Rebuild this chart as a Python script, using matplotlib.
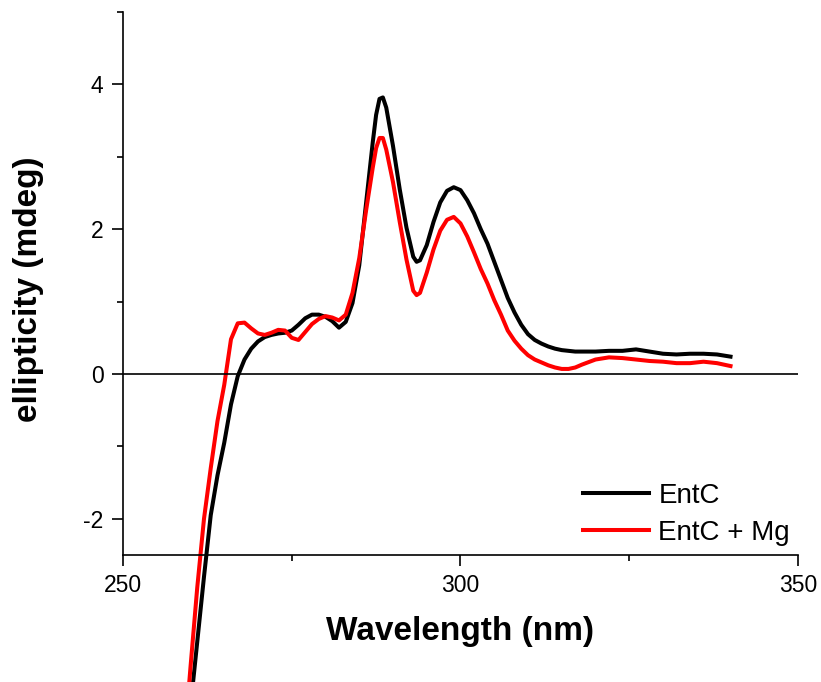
import matplotlib
matplotlib.use("Agg")
import matplotlib.pyplot as plt
from matplotlib.ticker import MultipleLocator

plt.rcParams['font.family'] = ['Liberation Sans', 'DejaVu Sans']
plt.rcParams['axes.unicode_minus'] = False

# wavelength (nm)
wavelength = [259, 260, 261, 262, 263, 264, 265, 266, 267, 268, 269, 270, 271, 272,
              273, 274, 275, 276, 277, 278, 279, 280, 281, 282, 283, 284, 285, 286,
              287, 287.5, 288, 288.5, 289, 290, 291, 292, 293, 293.5, 294, 295, 296,
              297, 298, 299, 300, 301, 302, 303, 304, 305, 306, 307, 308, 309, 310,
              311, 312, 313, 314, 315, 316, 317, 318, 320, 322, 324, 326, 328, 330,
              332, 334, 336, 338, 340]

entc = [-5.6, -4.6, -3.7, -2.8, -1.95, -1.4, -0.95, -0.42, -0.03, 0.2, 0.35, 0.45,
        0.51, 0.54, 0.56, 0.57, 0.6, 0.68, 0.77, 0.82, 0.82, 0.79, 0.73, 0.64, 0.72,
        0.98, 1.5, 2.35, 3.2, 3.58, 3.8, 3.82, 3.68, 3.15, 2.55, 2.02, 1.62, 1.55,
        1.57, 1.78, 2.1, 2.37, 2.53, 2.58, 2.54, 2.4, 2.22, 2.0, 1.8, 1.55, 1.3, 1.05,
        0.85, 0.68, 0.55, 0.47, 0.42, 0.38, 0.35, 0.33, 0.32, 0.31, 0.31, 0.31, 0.32,
        0.32, 0.34, 0.31, 0.28, 0.27, 0.28, 0.28, 0.27, 0.24]

entc_mg = [-5.2, -4.05, -2.95, -2.0, -1.3, -0.65, -0.15, 0.48, 0.70, 0.71, 0.63, 0.56,
           0.54, 0.57, 0.61, 0.6, 0.5, 0.47, 0.58, 0.69, 0.76, 0.8, 0.78, 0.74, 0.82,
           1.12, 1.6, 2.25, 2.85, 3.12, 3.26, 3.26, 3.1, 2.65, 2.1, 1.58, 1.15, 1.09,
           1.12, 1.4, 1.72, 1.98, 2.13, 2.17, 2.08, 1.9, 1.68, 1.45, 1.25, 1.02, 0.82,
           0.6, 0.46, 0.35, 0.26, 0.2, 0.16, 0.12, 0.09, 0.07, 0.07, 0.09, 0.13, 0.2,
           0.23, 0.22, 0.2, 0.18, 0.17, 0.15, 0.15, 0.17, 0.15, 0.11]

fig = plt.figure(figsize=(8.21, 6.82), dpi=100)
ax = fig.add_axes([0.1498, 0.1862, 0.8222, 0.7962])

ax.plot(wavelength, entc, color="black", lw=2.9, label="EntC", clip_on=False,
        solid_joinstyle="round")
ax.plot(wavelength, entc_mg, color="#ff0000", lw=2.9, label="EntC + Mg", clip_on=False,
        solid_joinstyle="round")
ax.axhline(0, color="black", lw=1.2)

ax.set_xlim(250, 350)
ax.set_ylim(-2.5, 5)
ax.xaxis.set_major_locator(MultipleLocator(50))
ax.xaxis.set_minor_locator(MultipleLocator(25))
ax.yaxis.set_major_locator(MultipleLocator(2))
ax.yaxis.set_minor_locator(MultipleLocator(1))

for s in ["top", "right"]:
    ax.spines[s].set_visible(False)
for s in ["left", "bottom"]:
    ax.spines[s].set_linewidth(1.2)

ax.tick_params(which="major", length=8, width=1.2, labelsize=16.5, pad=6)
ax.tick_params(which="minor", length=4.5, width=1.2)

ax.set_xlabel("Wavelength (nm)", fontsize=24, fontweight="bold")
ax.set_ylabel("ellipticity (mdeg)", fontsize=24, fontweight="bold")
ax.xaxis.set_label_coords(0.5, -0.113)
ax.yaxis.set_label_coords(-0.117, 0.49)

ax.legend(loc="upper left", bbox_to_anchor=(0.710, 0.292), bbox_transform=fig.transFigure,
          frameon=False, fontsize=20, handlelength=2.37, handletextpad=0.35,
          labelspacing=0.4, borderpad=0, borderaxespad=0)

fig.savefig("out.png", dpi=100)
